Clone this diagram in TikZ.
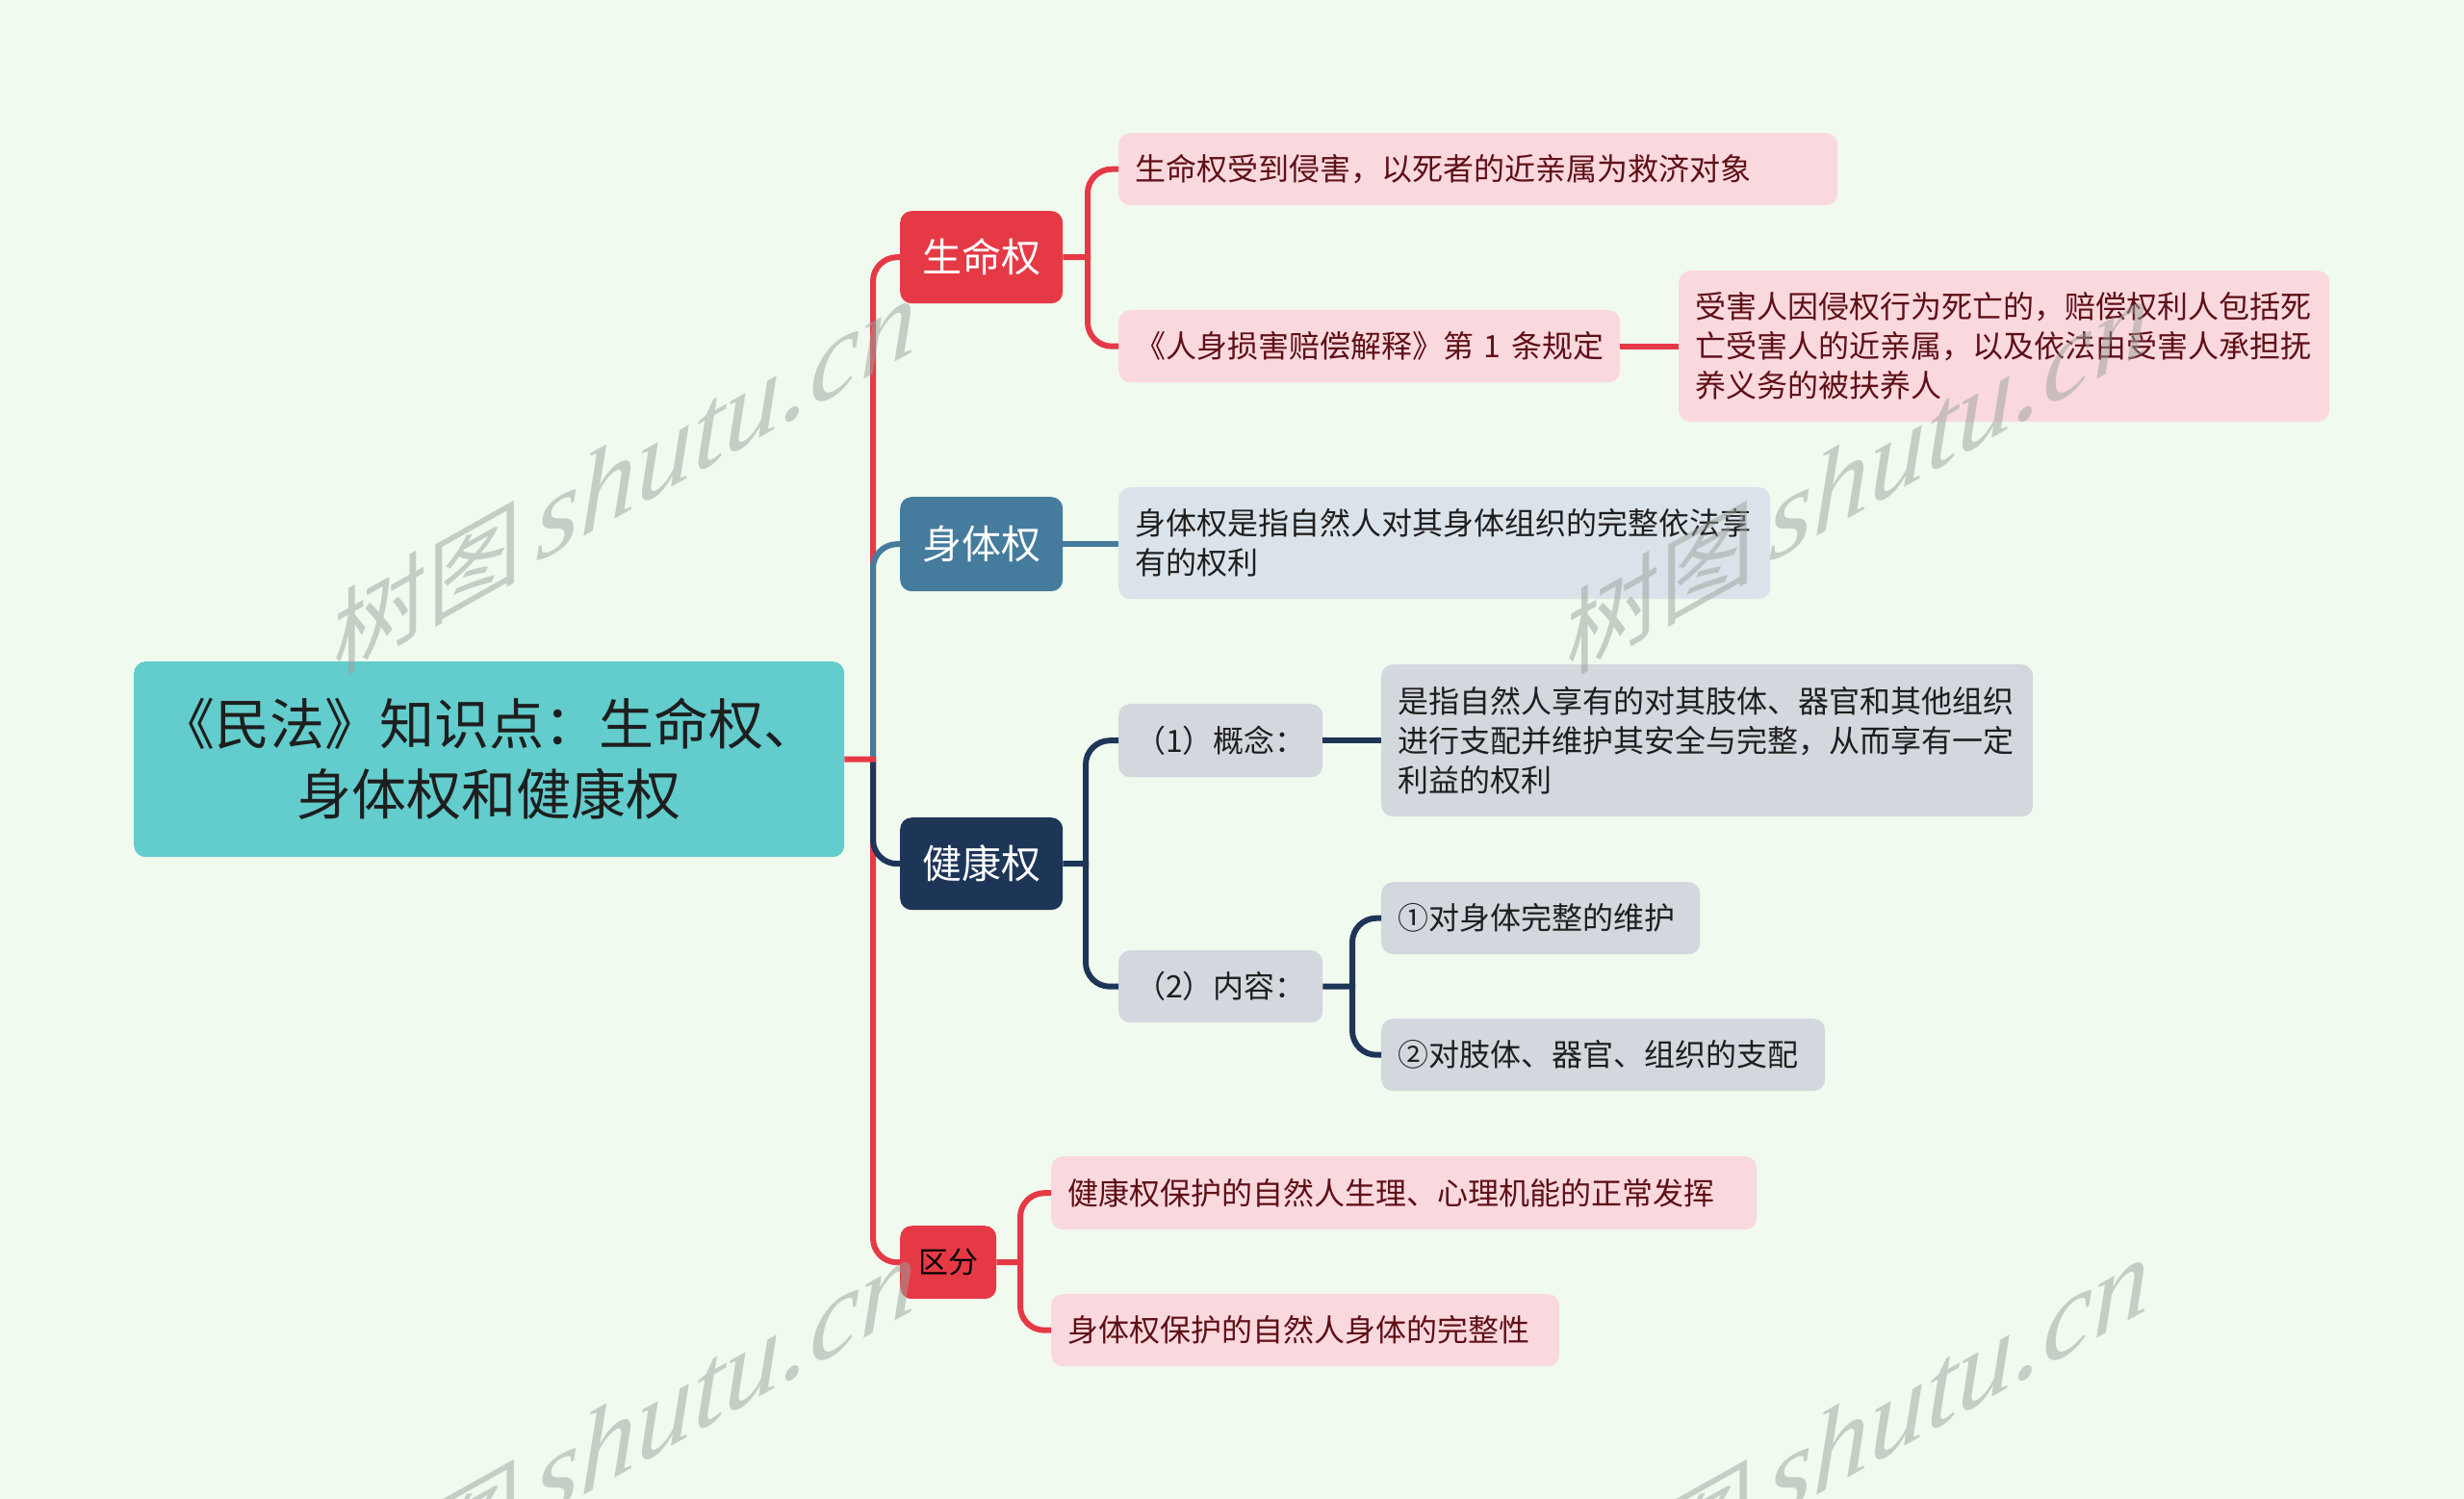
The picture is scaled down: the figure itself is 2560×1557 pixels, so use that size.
\documentclass[tikz,border=0pt]{standalone}
\usepackage{fontspec}
\setmainfont{Noto Sans CJK SC}
\newfontfamily\wmserif{Liberation Serif}
\newfontfamily\wmcjk{Noto Sans CJK SC}
\definecolor{bgc}{HTML}{F0FAEF}
\definecolor{rootc}{HTML}{63CCCC}
\definecolor{redc}{HTML}{E63946}
\definecolor{bluec}{HTML}{457B9D}
\definecolor{navyc}{HTML}{1D3557}
\definecolor{pinkc}{HTML}{FAD9DE}
\definecolor{maroonc}{HTML}{5E1016}
\definecolor{bluegc}{HTML}{DBE3EA}
\definecolor{grayc}{HTML}{D3D7DE}
\definecolor{darkc}{HTML}{1E1E1E}
\definecolor{wmc}{HTML}{9AA39A}
\begin{document}
\begin{tikzpicture}[x=1pt,y=-1pt,
  base/.style={rounded corners=12pt, inner ysep=0pt, anchor=north west},
  rootnode/.style={base, fill=rootc, text=darkc, align=center, inner xsep=0pt,
    font=\fontsize{57}{73}\selectfont},
  mainnode/.style={base, text=white, align=center, inner xsep=0pt,
    font=\fontsize{41}{50}\selectfont},
  leaf/.style={base, inner xsep=17pt, align=left, font=\fontsize{32}{41}\selectfont},
  pinkleaf/.style={leaf, fill=pinkc, text=maroonc},
  blueleaf/.style={leaf, fill=bluegc, text=darkc},
  grayleaf/.style={leaf, fill=grayc, text=darkc},
  conn/.style={line width=6pt, rounded corners=25pt},
  wm/.style={text=wmc, text opacity=0.5, inner sep=0pt, anchor=base west, yslant=0.56}
]
\fill[bgc] (0,0) rectangle (2560,1557);
\useasboundingbox (0,0) rectangle (2560,1557);

% root
\node[rootnode, minimum width=738pt, minimum height=203pt] (root) at (139,687)
  {《民法》知识点：生命权、\\身体权和健康权};

% main branches
\node[mainnode, fill=redc, minimum width=169pt, minimum height=96pt] (n1) at (935,219) {生命权};
\node[mainnode, fill=bluec, minimum width=169pt, minimum height=98pt] (n2) at (935,516) {身体权};
\node[mainnode, fill=navyc, minimum width=169pt, minimum height=96pt] (n3) at (935,849) {健康权};
\node[mainnode, fill=redc, text=black, minimum width=100pt, minimum height=76pt,
  font=\fontsize{31}{40}\selectfont] (n4) at (935,1273) {区分};

% leaves of 生命权
\node[pinkleaf, text width=713pt, minimum height=75pt] (a1) at (1162,138)
  {生命权受到侵害，以死者的近亲属为救济对象};
\node[pinkleaf, text width=487pt, minimum height=75pt] (a2) at (1162,322)
  {\mbox{《人身损害赔偿解释》第 1 条规定}};
\node[pinkleaf, text width=642pt, minimum height=157pt] (a3) at (1744,281)
  {受害人因侵权行为死亡的，赔偿权利人包括死\\亡受害人的近亲属，以及依法由受害人承担抚\\养义务的被扶养人};

% leaf of 身体权
\node[blueleaf, text width=643pt, minimum height=116pt] (b1) at (1162,506)
  {身体权是指自然人对其身体组织的完整依法享\\有的权利};

% leaves of 健康权
\node[grayleaf, text width=178pt, minimum height=76pt] (c1) at (1162,731) {（1）概念：};
\node[grayleaf, text width=643pt, minimum height=158pt] (c2) at (1435,690)
  {是指自然人享有的对其肢体、器官和其他组织\\进行支配并维护其安全与完整，从而享有一定\\利益的权利};
\node[grayleaf, text width=178pt, minimum height=75pt] (c3) at (1162,987) {（2）内容：};
\node[grayleaf, text width=297pt, minimum height=75pt] (c4) at (1435,916) {①对身体完整的维护};
\node[grayleaf, text width=427pt, minimum height=75pt] (c5) at (1435,1058) {②对肢体、器官、组织的支配};

% leaves of 区分
\node[pinkleaf, text width=699pt, minimum height=76pt] (d1) at (1092,1201)
  {健康权保护的自然人生理、心理机能的正常发挥};
\node[pinkleaf, text width=494pt, minimum height=75pt] (d2) at (1092,1344)
  {身体权保护的自然人身体的完整性};

% junctions
\coordinate (j0) at (907,788.5);
\coordinate (j1) at (1130,267);
\coordinate (j2) at (1128,897);
\coordinate (j3) at (1405,1024.5);
\coordinate (j4) at (1060,1311);

% root connectors
\draw[conn, redc] (j0) |- (n1.west);
\draw[conn, redc] (j0) |- (n4.west);
\draw[conn, bluec] (j0) |- (n2.west);
\draw[conn, navyc] (j0) |- (n3.west);
\draw[line width=6pt, redc] (root.east) -- ([xshift=3pt]j0);

% 生命权
\draw[line width=6pt, redc] (n1.east) -- ([xshift=3pt]j1);
\draw[conn, redc] (j1) |- (a1.west);
\draw[conn, redc] (j1) |- (a2.west);
\draw[line width=6pt, redc] (a2.east) -- (a3.west);

% 身体权
\draw[line width=6pt, bluec] (n2.east) -- (n2.east -| b1.west);

% 健康权
\draw[line width=6pt, navyc] (n3.east) -- ([xshift=3pt]j2);
\draw[conn, navyc] (j2) |- (c1.west);
\draw[conn, navyc] (j2) |- (c3.west);
\draw[line width=6pt, navyc] (c1.east) -- (c2.west);
\draw[line width=6pt, navyc] (c3.east) -- ([xshift=3pt]j3);
\draw[conn, navyc] (j3) |- (c4.west);
\draw[conn, navyc] (j3) |- (c5.west);

% 区分
\draw[line width=6pt, redc] (n4.east) -- ([xshift=3pt]j4);
\draw[conn, redc] (j4) |- (d1.west);
\draw[conn, redc] (j4) |- (d2.west);

% watermarks
\newcommand\wmtext{{\wmcjk\fontsize{98}{98}\selectfont 树图}\hspace{14pt}{\wmserif\itshape\fontsize{118}{118}\selectfont shutu.cn}}
\node[wm] (w1) at (346,703) {\wmtext};
\node[wm] (w2) at (1627,703) {\wmtext};
\node[wm] (w3) at (346,1699) {\wmtext};
\node[wm] (w4) at (1627,1699) {\wmtext};
\end{tikzpicture}
\end{document}
